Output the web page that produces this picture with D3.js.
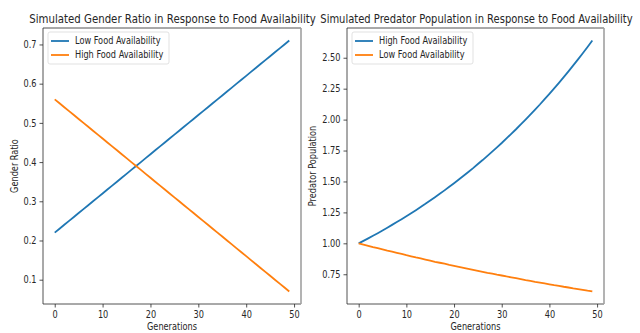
<!DOCTYPE html>
<html><head><meta charset="utf-8">
<script src="https://cdn.jsdelivr.net/npm/d3@7"></script>
<style>body{margin:0;background:#fff}svg{display:block}text{font-family:"DejaVu Sans",sans-serif;fill:#262626}</style>
</head><body><svg id="c" width="640" height="333"></svg>
<script>
const generations = d3.range(0, 50);
const genderLow = [0.22,0.23,0.24,0.25,0.26,0.27,0.28,0.29,0.30,0.31,0.32,0.33,0.34,0.35,0.36,0.37,0.38,0.39,0.40,0.41,0.42,0.43,0.44,0.45,0.46,0.47,0.48,0.49,0.50,0.51,0.52,0.53,0.54,0.55,0.56,0.57,0.58,0.59,0.60,0.61,0.62,0.63,0.64,0.65,0.66,0.67,0.68,0.69,0.70,0.71];
const genderHigh = [0.56,0.55,0.54,0.53,0.52,0.51,0.50,0.49,0.48,0.47,0.46,0.45,0.44,0.43,0.42,0.41,0.40,0.39,0.38,0.37,0.36,0.35,0.34,0.33,0.32,0.31,0.30,0.29,0.28,0.27,0.26,0.25,0.24,0.23,0.22,0.21,0.20,0.19,0.18,0.17,0.16,0.15,0.14,0.13,0.12,0.11,0.10,0.09,0.08,0.07];
const predHigh = [1.000,1.020,1.040,1.061,1.082,1.104,1.126,1.149,1.172,1.195,1.219,1.243,1.268,1.294,1.319,1.346,1.373,1.400,1.428,1.457,1.486,1.516,1.546,1.577,1.608,1.641,1.673,1.707,1.741,1.776,1.811,1.848,1.885,1.922,1.961,2.000,2.040,2.081,2.122,2.165,2.208,2.252,2.297,2.343,2.390,2.438,2.487,2.536,2.587,2.639];
const predLow = [1.000,0.990,0.980,0.970,0.961,0.951,0.941,0.932,0.923,0.914,0.904,0.895,0.886,0.878,0.869,0.860,0.851,0.843,0.835,0.826,0.818,0.810,0.802,0.794,0.786,0.778,0.770,0.762,0.755,0.747,0.740,0.732,0.725,0.718,0.711,0.703,0.696,0.689,0.683,0.676,0.669,0.662,0.656,0.649,0.643,0.636,0.630,0.624,0.617,0.611];
const xTicks = [0,10,20,30,40,50];
const genderTicks = [0.1,0.2,0.3,0.4,0.5,0.6,0.7];
const predTicks = [0.75,1.00,1.25,1.50,1.75,2.00,2.25,2.50];

const C1 = "#1f77b4", C2 = "#ff7f0e";
const SQUEEZE = 0.82;
const svg = d3.select("#c");

// horizontally compress text around its anchor point (x attribute), keeping any existing transform
function squeeze(sel, target) {
  sel.each(function() {
    const el = d3.select(this);
    const w = this.getComputedTextLength();
    const s = target != null ? target / w : SQUEEZE;
    const ax = +(el.attr("x") || 0);
    const pre = el.attr("transform") || "";
    el.attr("transform", `${pre} translate(${ax},0) scale(${s},1) translate(${-ax},0)`);
  });
}

function panel(opt) {
  const {left, right, top, bottom, title, titleLen, titleX, ylabel, ylabelX, series, yTicks, yFmt} = opt;
  const x = d3.scaleLinear().domain([-2.45, 51.45]).range([left, right]);
  const all = series.flatMap(s => s.values);
  const lo = d3.min(all), hi = d3.max(all), m = (hi - lo) * 0.05;
  const y = d3.scaleLinear().domain([lo - m, hi + m]).range([bottom, top]);
  const g = svg.append("g");

  series.forEach(s => {
    g.append("path").datum(s.values)
      .attr("fill", "none").attr("stroke", s.color).attr("stroke-width", 1.8)
      .attr("d", d3.line().x((d, i) => x(generations[i])).y(d => y(d)));
  });

  const xa = g.append("g").attr("transform", `translate(0,${bottom})`)
    .call(d3.axisBottom(x).tickValues(xTicks).tickSize(3.5).tickPadding(3).tickFormat(d3.format("d")));
  const ya = g.append("g").attr("transform", `translate(${left},0)`)
    .call(d3.axisLeft(y).tickValues(yTicks).tickSize(3.5).tickPadding(3).tickFormat(yFmt));
  [xa, ya].forEach(a => {
    a.select(".domain").remove();
    a.selectAll("line").attr("stroke", "#262626").attr("stroke-width", 0.8);
    a.selectAll("text").style("font-size", "10px").attr("fill", "#262626").call(squeeze);
  });
  // spines
  g.append("line").attr("x1", left).attr("x2", left).attr("y1", top).attr("y2", bottom).attr("stroke", "#262626").attr("stroke-width", 0.8);
  g.append("line").attr("x1", left).attr("x2", right).attr("y1", bottom).attr("y2", bottom).attr("stroke", "#262626").attr("stroke-width", 0.8);
  g.append("line").attr("x1", left).attr("x2", right).attr("y1", top).attr("y2", top).attr("stroke", "#262626").attr("stroke-width", 0.8);
  g.append("line").attr("x1", right).attr("x2", right).attr("y1", top).attr("y2", bottom).attr("stroke", "#a0a0a0").attr("stroke-width", 1.6);

  g.append("text").attr("x", titleX).attr("y", 23).attr("text-anchor", "middle")
    .style("font-size", "12px").text(title).call(squeeze, titleLen);
  g.append("text").attr("x", (left + right) / 2).attr("y", 330.5).attr("text-anchor", "middle")
    .style("font-size", "10px").text("Generations").call(squeeze);
  g.append("text").attr("transform", `translate(${ylabelX},${(top + bottom) / 2}) rotate(-90)`)
    .attr("text-anchor", "middle").style("font-size", "10px").text(ylabel).call(squeeze);

  // legend
  const lx = left + 5, ly = top + 4;
  const lw = 121, lh = 32;
  g.append("rect").attr("x", lx).attr("y", ly).attr("width", lw).attr("height", lh).attr("rx", 2)
    .attr("fill", "#fff").attr("fill-opacity", 0.8).attr("stroke", "#d9d9d9").attr("stroke-width", 0.8);
  series.forEach((s, i) => {
    const yy = ly + 9 + i * 14;
    g.append("line").attr("x1", lx + 3).attr("x2", lx + 21).attr("y1", yy).attr("y2", yy)
      .attr("stroke", s.color).attr("stroke-width", 1.8);
    g.append("text").attr("x", lx + 27).attr("y", yy + 3.5).style("font-size", "10px").text(s.name).call(squeeze);
  });
}

panel({left: 43, right: 301, top: 28, bottom: 304,
  title: "Simulated Gender Ratio in Response to Food Availability", titleLen: 287, titleX: 172.5,
  ylabel: "Gender Ratio", ylabelX: 18,
  series: [{name: "Low Food Availability", values: genderLow, color: C1},
           {name: "High Food Availability", values: genderHigh, color: C2}],
  yTicks: genderTicks, yFmt: d3.format(".1f")});

panel({left: 347, right: 604, top: 28, bottom: 304,
  title: "Simulated Predator Population in Response to Food Availability", titleLen: 313, titleX: 476.5,
  ylabel: "Predator Population", ylabelX: 316,
  series: [{name: "High Food Availability", values: predHigh, color: C1},
           {name: "Low Food Availability", values: predLow, color: C2}],
  yTicks: predTicks, yFmt: d3.format(".2f")});
</script></body></html>
